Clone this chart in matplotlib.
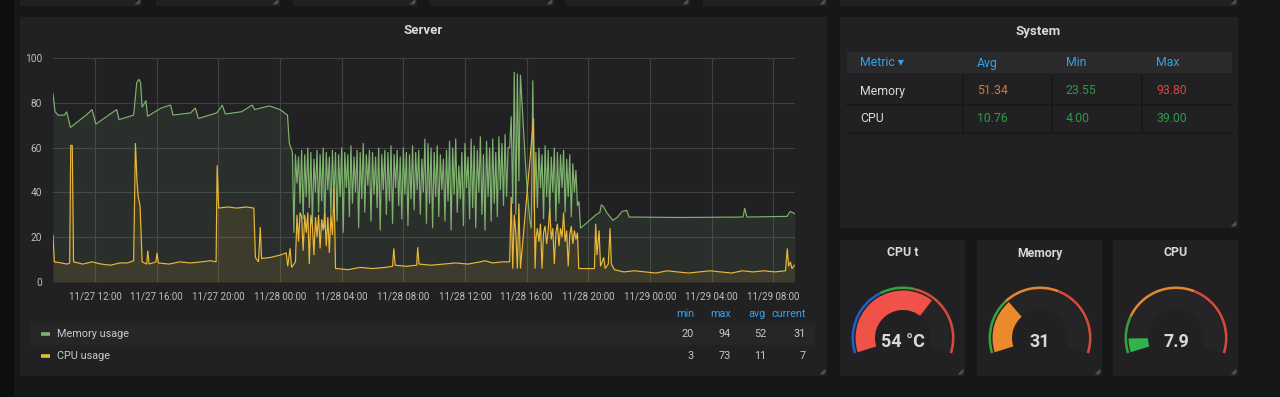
import numpy as np
import matplotlib
matplotlib.use("Agg")
import matplotlib.pyplot as plt
import matplotlib.dates as mdates
from matplotlib.patches import Rectangle, Wedge

# ---------------- data ----------------
day0 = np.datetime64("2018-11-27T00:00")
x_range_hours = [9.27, 57.42]

# Memory usage (hours since 11/27 00:00, percent)
mem_early_hours = [9.27, 9.40, 9.6, 10.0, 10.15, 10.4, 11.5, 11.8, 12.05, 13.4, 13.55, 14.5,
                   14.7, 14.85, 14.95, 15.05, 15.3, 15.4, 16.3, 16.9, 17.05, 18.2, 18.5, 18.7,
                   19.9, 20.25, 20.45, 21.5, 22.2, 22.35, 23.3, 24.0, 24.49, 24.6, 24.7]
mem_early_values = [84, 76, 74.5, 74.5, 76, 69, 75, 77, 70.5, 77, 72.5, 74.5,
                    89, 90.5, 89, 78, 81, 74, 77.7, 79, 74.5, 75.5, 77.7, 73,
                    75.5, 79, 75, 76, 79, 77, 78.6, 77, 74.5, 62, 60]
mem_burst_start = 24.8
mem_burst_step = 0.1
mem_burst_values = [
    58, 22, 57, 44, 56, 35, 59, 28, 57, 38, 60, 33, 58, 26, 55, 40, 59, 31, 57, 36,
    60, 24, 58, 41, 56, 30, 59, 37, 58, 27, 57,
    38, 60, 22, 58, 42, 57, 29, 61, 35, 56, 40, 59, 24, 58, 37, 62, 31, 57, 43, 59,
    27, 58, 39, 56, 33, 60, 23, 57, 41, 59, 30, 58, 36, 61, 26, 57, 42, 59, 34, 56,
    28, 60, 39, 58, 25, 57, 37, 61, 32, 58, 41, 59,
    30, 55, 40, 64, 26, 62, 35, 60, 24, 58, 38, 61, 29, 57, 41, 55, 27, 59, 36, 63,
    23, 60, 39, 64, 31, 52, 37, 58, 25, 62, 42, 56, 28, 64, 33, 61, 24, 59, 40, 65,
    30, 57, 23, 63, 38, 60, 27, 64, 35, 58, 29, 65, 41, 62, 34, 66, 38, 60,
    60, 74, 35, 93.8, 30, 93, 45, 92.5, 80, 68, 56, 45, 36, 28, 24, 90, 32,
    58, 33, 60, 42, 57, 28, 61, 38, 59, 30, 56, 40, 60, 27, 58, 35, 57, 42, 59, 31,
    55, 38, 57, 29, 53, 40, 50, 34, 36]
mem_late_hours = [43.5, 44.5, 44.75, 44.85, 45.0, 45.2, 45.6, 45.9, 46.2, 46.5, 46.65,
                  50.0, 54.05, 54.15, 54.3, 56.9, 57.1, 57.4]
mem_late_values = [24, 30, 31, 34.5, 33.5, 31, 27.5, 29, 31.5, 32, 29,
                   28.8, 29, 33, 29, 29.3, 31.5, 30.5]

# CPU usage
cpu_early_hours = [9.27, 9.35, 9.8, 10.2, 10.35, 10.42, 10.52, 10.6, 11.2, 11.8, 12.4, 13.0,
                   13.6, 14.1, 14.5, 14.62, 14.72, 14.8, 14.92, 15.05, 15.35, 15.42, 15.5,
                   15.95, 16.02, 16.1, 16.8, 17.5, 18.2, 18.9, 19.5, 19.85, 19.92, 20.02,
                   20.6, 21.2, 21.8, 22.3, 22.4, 22.6, 22.72, 22.8, 23.4, 24.0, 24.4, 24.5,
                   24.65, 24.75, 24.9, 25.0]
cpu_early_values = [21, 9, 8.5, 8, 8.5, 61, 61, 9, 8, 9, 8, 7.5,
                    8.5, 8.5, 9.5, 62, 45, 38, 34, 9, 8, 14, 8,
                    9, 13, 8.5, 8, 9, 8.5, 9, 9.5, 9, 52, 33,
                    33.5, 33, 33.5, 33, 11, 9, 24.5, 10.5, 11, 12, 13, 7,
                    15, 6.5, 8, 9]
cpu_burst1_start = 25.1
cpu_burst1_values = [30, 18, 31, 29, 14, 30, 22, 31, 8, 30, 25, 12, 29, 20, 30, 15, 28, 23,
                     31, 16, 29, 13, 30, 21, 42, 6]
cpu_mid_hours = [27.7, 28.4, 29.2, 30.0, 30.8, 31.3, 31.38, 31.46, 32.2, 32.86, 32.94, 33.02,
                 33.8, 34.6, 35.4, 36.2, 37.0, 37.3, 37.8, 38.4, 38.9, 39.0, 39.1, 39.2,
                 39.3, 39.4, 39.5, 39.6, 40.45, 40.55, 40.62]
cpu_mid_values = [6, 5.5, 6.5, 6, 6.5, 7, 15, 7.5, 7, 7.5, 15.5, 8,
                  7.5, 8, 8.5, 8, 9, 9.5, 8.5, 9, 9, 38, 6, 30,
                  22, 6, 35, 6, 73, 6, 20]
cpu_burst2_start = 40.7
cpu_burst_step = 0.1
cpu_burst2_values = [24, 18, 26, 6, 22, 25, 17, 23, 33, 19, 24, 8, 22, 26, 16, 24, 20, 31,
                     18, 23, 7, 21, 25, 17, 23, 19, 22]
cpu_late_hours = [43.38, 44.4, 44.48, 44.56, 44.7, 44.8, 45.0, 45.1, 45.3, 45.42, 45.5, 45.7,
                  46.3, 47.0, 47.7, 48.4, 49.1, 49.8, 50.5, 51.2, 51.9, 52.6, 53.3, 54.0,
                  54.7, 55.4, 56.1, 56.8, 56.92, 57.0, 57.12, 57.22, 57.38]
cpu_late_values = [6, 6, 26, 12, 23, 7, 11, 6, 8, 24, 8, 5.5,
                   4.5, 5, 4.5, 4, 5, 4.5, 4, 4.5, 5, 4.5, 4, 5,
                   4.5, 5, 4.5, 5, 15, 7, 9, 6, 7.5]

series_names = ["Memory usage", "CPU usage"]
legend_columns = ["min", "max", "avg", "current"]
legend_stats = [[20, 94, 52, 31], [3, 73, 11, 7]]

table_columns = ["Metric \u25be", "Avg", "Min", "Max"]
table_metrics = ["Memory", "CPU"]
table_avg = [51.34, 10.76]
table_min = [23.55, 4.00]
table_max = [93.80, 39.00]
table_thresholds = [50, 80]

gauge_titles = ["CPU t", "Memory", "CPU"]
gauge_values = [54, 31, 7.9]
gauge_units = [" \u00b0C", "", ""]
gauge_max = [80, 100, 100]
gauge_thresholds = [(30, 45), (30, 60), (20, 60)]
gauge_decimals = [0, 0, 1]

# ---------------- style ----------------
BG = "#161719"
PANEL = "#212124"
TEXT = "#d8d9da"
TICK = "#bdbec0"
BLUE_T = "#33a2e5"
GREEN = "#7eb26d"
YELLOW = "#eab839"
plt.rcParams["font.family"] = ["Roboto", "DejaVu Sans"]

W, H = 1280, 397
fig = plt.figure(figsize=(W / 100, H / 100), dpi=100, facecolor=BG)

bg = fig.add_axes([0, 0, 1, 1], zorder=0)
bg.set_xlim(0, W)
bg.set_ylim(0, H)
bg.axis("off")


def fy(y):
    return H - y


def rect(x0, y0, x1, y1, color, z=1):
    bg.add_patch(Rectangle((x0, fy(y1)), x1 - x0, y1 - y0, facecolor=color,
                           edgecolor="none", zorder=z))


def handle(x, y):
    bg.plot([x - 4, x], [fy(y), fy(y - 4)], color="#5f6062", lw=0.8, zorder=3)
    bg.plot([x - 2, x], [fy(y), fy(y - 2)], color="#5f6062", lw=0.8, zorder=3)


# dark strip on the left
rect(0, 0, 14, H, "#0d0e10")

top_boxes = [(20, 142), (156, 280), (293, 417), (430, 554), (566, 690), (703, 827), (840, 1238)]
for x0, x1 in top_boxes:
    rect(x0, 0, x1, 6, PANEL)
    handle(x1 - 2, 4)

# main panels
rect(20, 17, 827, 376, PANEL)
rect(840, 17, 1238, 228, PANEL)
gauge_boxes = [(840, 965), (977, 1102), (1113, 1238)]
for x0, x1 in gauge_boxes:
    rect(x0, 240, x1, 376, PANEL)
for x, y in [(825, 374), (1236, 226), (963, 374), (1100, 374), (1236, 374)]:
    handle(x, y)

# ---------------- Server graph ----------------
bg.text(423, fy(31), "Server", ha="center", va="center", color=TEXT, fontsize=9.5,
        fontweight="bold", zorder=4)


def to_time(hours):
    minutes = np.round(np.asarray(hours, dtype=float) * 60).astype(int)
    return day0 + minutes.astype("timedelta64[m]")


mem_h = np.concatenate([mem_early_hours,
                        mem_burst_start + mem_burst_step * np.arange(len(mem_burst_values)),
                        mem_late_hours])
mem_v = np.concatenate([mem_early_values, mem_burst_values, mem_late_values])
cpu_h = np.concatenate([cpu_early_hours,
                        cpu_burst1_start + cpu_burst_step * np.arange(len(cpu_burst1_values)),
                        cpu_mid_hours,
                        cpu_burst2_start + cpu_burst_step * np.arange(len(cpu_burst2_values)),
                        cpu_late_hours])
cpu_v = np.concatenate([cpu_early_values, cpu_burst1_values, cpu_mid_values,
                        cpu_burst2_values, cpu_late_values])
o = np.argsort(mem_h, kind="stable")
mem_h, mem_v = mem_h[o], mem_v[o]
o = np.argsort(cpu_h, kind="stable")
cpu_h, cpu_v = cpu_h[o], cpu_v[o]

ax = fig.add_axes([53 / W, 1 - 282 / H, 742 / W, 224 / H], zorder=2)
ax.set_facecolor("none")
for t, v, c in [(mem_h, mem_v, GREEN), (cpu_h, cpu_v, YELLOW)]:
    tt = to_time(t)
    ax.fill_between(tt, v, 0, color=c, alpha=0.10, lw=0)
    ax.plot(tt, v, color=c, lw=0.85, solid_joinstyle="miter")

ax.set_ylim(0, 100)
ax.set_xlim(to_time([x_range_hours[0]])[0], to_time([x_range_hours[1]])[0])
ax.set_yticks([0, 20, 40, 60, 80, 100])
ax.xaxis.set_major_locator(mdates.HourLocator(byhour=[0, 4, 8, 12, 16, 20]))
ax.xaxis.set_major_formatter(mdates.DateFormatter("%m/%d %H:%M"))
ax.grid(True, color="#404043", lw=0.8)
ax.set_axisbelow(True)
for s in ax.spines.values():
    s.set_visible(False)
ax.tick_params(axis="both", length=0, colors=TICK)
ax.tick_params(axis="x", pad=7, labelsize=7)
ax.tick_params(axis="y", pad=8, labelsize=7.3)

# legend
rect(30, 323, 815, 345, "#262629", z=1.5)
col_right = [694, 731, 766, 806]
for name, xr in zip(legend_columns, col_right):
    bg.text(xr, fy(314), name, ha="right", va="center", color=BLUE_T, fontsize=7.8,
            zorder=4)
for i, (name, color, stats) in enumerate(zip(series_names, [GREEN, YELLOW], legend_stats)):
    y = 334 + 22 * i
    bg.plot([41, 50], [fy(y), fy(y)], color=color, lw=2.6, solid_capstyle="butt", zorder=4)
    bg.text(57, fy(y), name, ha="left", va="center", color="#c8c9ca", fontsize=7.8, zorder=4)
    for val, xr in zip(stats, col_right):
        bg.text(xr, fy(y), str(val), ha="right", va="center", color="#c8c9ca",
                fontsize=7.8, zorder=4)

# ---------------- System table ----------------
bg.text(1038, fy(31), "System", ha="center", va="center", color=TEXT, fontsize=9.5,
        fontweight="bold", zorder=4)
rect(847, 52, 1232, 73, "#2a2a2d", z=2)
col_x = [860, 977, 1066, 1156]
col_div = [963, 1052, 1142]
for name, x in zip(table_columns, col_x):
    bg.text(x, fy(63), name, ha="left", va="center", color=BLUE_T, fontsize=8.8,
            zorder=4)


def cell_color(v):
    if v >= table_thresholds[1]:
        return "#d44a3a"
    if v >= table_thresholds[0]:
        return "#e0752d"
    return "#299c46"


row_y = [91, 119]
for i, m in enumerate(table_metrics):
    y = row_y[i]
    bg.text(col_x[0], fy(y), m, ha="left", va="center", color=TEXT, fontsize=8.8, zorder=4)
    for j, v in enumerate([table_avg[i], table_min[i], table_max[i]]):
        bg.text(col_x[j + 1], fy(y), f"{v:.2f}", ha="left", va="center",
                color=cell_color(v), fontsize=8.8, zorder=4)
for y in [105, 133]:
    bg.plot([847, 1232], [fy(y), fy(y)], color="#18181a", lw=1.2, zorder=3)
for x in col_div:
    bg.plot([x, x], [fy(76), fy(133)], color="#18181a", lw=1.2, zorder=3)

# ---------------- Gauges ----------------
A0, SPAN = 197.5, 215.0
COL_LEVELS = {
    0: ["#1f60c4", "#37a03a", "#d44a3a"],
    1: ["#37a03a", "#e0862f", "#d44a3a"],
    2: ["#37a03a", "#e0862f", "#d44a3a"],
}
BAND = {"#1f60c4": "#2f6fd0", "#37a03a": "#2fb34a", "#e0862f": "#ea8a2a", "#d44a3a": "#f0524a"}
for k, (x0, x1) in enumerate(gauge_boxes):
    cx, cy = (x0 + x1) / 2 + 0.5, fy(338)
    bg.text((x0 + x1) / 2, fy(253), gauge_titles[k], ha="center", va="center", color=TEXT,
            fontsize=8.8, fontweight="bold", zorder=4)
    mx = gauge_max[k]
    t1, t2 = gauge_thresholds[k]
    cols = COL_LEVELS[k]
    bounds = [0, t1, t2, mx]
    for s in range(3):
        a_hi = A0 - bounds[s] / mx * SPAN
        a_lo = A0 - bounds[s + 1] / mx * SPAN
        bg.add_patch(Wedge((cx, cy), 51.5, a_lo, a_hi, width=2.6, facecolor=cols[s],
                           edgecolor="none", zorder=3))
    bg.add_patch(Wedge((cx, cy), 47.5, A0 - SPAN, A0, width=19.5, facecolor="#252528",
                       edgecolor="none", zorder=2.5))
    v = gauge_values[k]
    level = 0 if v < t1 else (1 if v < t2 else 2)
    a_v = A0 - min(v, mx) / mx * SPAN
    bg.add_patch(Wedge((cx, cy), 47.5, a_v, A0, width=19.5, facecolor=BAND[cols[level]],
                       edgecolor="none", zorder=3))
    label = f"{v:.{gauge_decimals[k]}f}{gauge_units[k]}"
    bg.text(cx, fy(342), label, ha="center", va="center", color=TEXT, fontsize=13,
            fontweight="bold", zorder=5)

fig.savefig("out.png", dpi=100, facecolor=BG)
